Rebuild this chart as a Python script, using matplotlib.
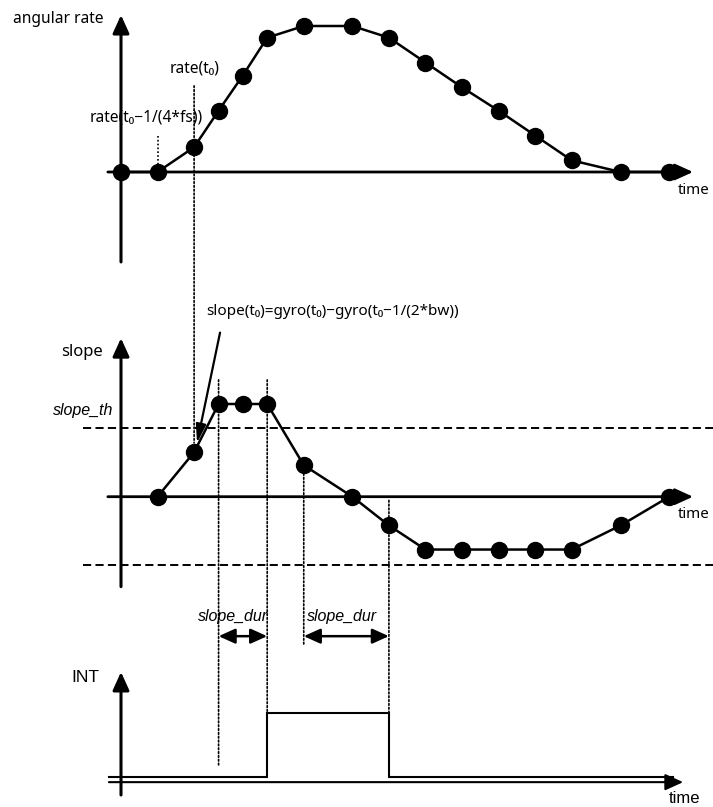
import numpy as np
import matplotlib.pyplot as plt
from matplotlib.patches import ConnectionPatch

# time in sample steps, shared by the three panels
rate_t = [0, 1, 2, 2.67, 3.33, 4, 5, 6.33, 7.33, 8.33, 9.33, 10.33, 11.33, 12.33, 13.67, 15]
rate_v = [0, 0, 0.17, 0.42, 0.66, 0.92, 1.0, 1.0, 0.92, 0.75, 0.58, 0.42, 0.25, 0.08, 0, 0]

slope_t = [1, 2, 2.67, 3.33, 4, 5, 6.33, 7.33, 8.33, 9.33, 10.33, 11.33, 12.33, 13.67, 15]
slope_v = [0, 0.48, 1.0, 1.0, 1.0, 0.34, 0, -0.31, -0.57, -0.57, -0.57, -0.57, -0.57, -0.31, 0]
slope_th = 0.74

int_t = [-0.33, 4, 4, 7.33, 7.33, 15.1]
int_v = [0, 0, 1, 1, 0, 0]

dur_left = (2.67, 4)
dur_right = (5, 7.33)

SANS = ['Noto Sans', 'DejaVu Sans']
ARIAL = ['Liberation Sans', 'DejaVu Sans']

W, H = 713, 807
PX_PER_T = 36.55
T_ZERO_PX = 121
xlim = (-T_ZERO_PX / PX_PER_T, (W - T_ZERO_PX) / PX_PER_T)

fig = plt.figure(figsize=(W / 100, H / 100), dpi=100)


# a panel is a horizontal band of the figure, value 0 at zero_px
def make_panel(top_px, bot_px, zero_px, px_per_unit):
    ax = fig.add_axes([0, 1 - bot_px / H, 1, (bot_px - top_px) / H])
    ax.set_xlim(xlim)
    ax.set_ylim(-(bot_px - zero_px) / px_per_unit, (zero_px - top_px) / px_per_unit)
    ax.axis('off')
    ax.patch.set_alpha(0)
    return ax


def axis_arrow(ax, start, end, lw=2.2):
    ax.annotate('', xy=end, xytext=start,
                arrowprops=dict(arrowstyle='-|>,head_length=1.1,head_width=0.5',
                                lw=lw, color='k', shrinkA=0, shrinkB=0,
                                mutation_scale=10), annotation_clip=False)


def dotted(axA, yA, axB, yB, t):
    con = ConnectionPatch(xyA=(t, yA), coordsA=axA.transData,
                          xyB=(t, yB), coordsB=axB.transData,
                          linestyle=(0, (1, 1.3)), lw=1.2, color='k')
    fig.add_artist(con)


ax1 = make_panel(0, 280, 172, 146)
ax2 = make_panel(280, 600, 496.7, 92.7)
ax3 = make_panel(600, 807, 777, 64.3)

# ---- angular rate panel
axis_arrow(ax1, (0, -0.616), (0, 1.075))
axis_arrow(ax1, (-0.36, 0), (15.65, 0), lw=2.0)
ax1.plot(rate_t, rate_v, color='k', lw=1.8, marker='o', ms=11.5, zorder=3)
ax1.text(-0.49, 1.048, 'angular rate', ha='right', va='center', fontsize=11.2, family=SANS)
ax1.text(2.02, 0.71, 'rate(t\u2080)', ha='center', va='center', fontsize=11.2, family=SANS)
ax1.text(0.70, 0.37, 'rate(t\u2080\u22121/(4*fs))', ha='center', va='center', fontsize=11.2, family=SANS)
ax1.text(15.22, -0.128, 'time', ha='left', va='center', fontsize=10.8, family=SANS)
ax1.plot([1, 1], [0.25, 0.03], color='k', lw=1.2, linestyle=(0, (1, 1.3)))

# ---- slope panel
axis_arrow(ax2, (0, -0.97), (0, 1.71))
axis_arrow(ax2, (-0.36, 0), (15.65, 0), lw=2.0)
for th in (slope_th, -slope_th):
    ax2.plot([-1.04, xlim[1]], [th, th], color='k', lw=1.4, linestyle=(0, (4.2, 2.2)))
ax2.plot(slope_t, slope_v, color='k', lw=1.8, marker='o', ms=11.5, zorder=3)
ax2.text(-0.49, 1.564, 'slope', ha='right', va='center', fontsize=12, family=SANS)
ax2.text(-0.22, 0.93, 'slope_th', ha='right', va='center', fontsize=11.5, style='italic', family=ARIAL)
ax2.text(2.34, 2.0, 'slope(t\u2080)=gyro(t\u2080)\u2212gyro(t\u2080\u22121/(2*bw))',
         ha='left', va='center', fontsize=11, family=SANS)
ax2.text(15.22, -0.197, 'time', ha='left', va='center', fontsize=10.8, family=SANS)
ax2.annotate('', xy=(2.08, 0.58), xytext=(2.71, 1.77),
             arrowprops=dict(arrowstyle='-|>,head_length=1.1,head_width=0.3',
                             lw=1.6, color='k', shrinkA=0, shrinkB=0, mutation_scale=10))

# ---- INT panel
axis_arrow(ax3, (0, -0.28), (0, 1.633))
axis_arrow(ax3, (-0.33, -0.08), (15.38, -0.08), lw=1.5)
ax3.plot(int_t, int_v, color='k', lw=1.5, solid_joinstyle='miter')
ax3.text(-0.6, 1.55, 'INT', ha='right', va='center', fontsize=12.5, family=ARIAL)
ax3.text(15.0, -0.34, 'time', ha='left', va='center', fontsize=12, family=ARIAL)
for (a, b), xc in ((dur_left, 3.06), (dur_right, 6.06)):
    ax3.annotate('', xy=(b, 2.19), xytext=(a, 2.19),
                 arrowprops=dict(arrowstyle='<|-|>,head_length=1.0,head_width=0.45',
                                 lw=1.8, color='k', shrinkA=0, shrinkB=0, mutation_scale=10))
    ax3.text(xc, 2.49, 'slope_dur', ha='center', va='center', fontsize=11.5,
             style='italic', family=ARIAL)

# ---- dotted guides running across panels
dotted(ax1, 0.59, ax2, 0.58, 2)
dotted(ax2, 1.26, ax3, 0.17, dur_left[0])
dotted(ax2, 1.26, ax3, 1.0, dur_left[1])
dotted(ax2, 0.29, ax3, 2.05, dur_right[0])
dotted(ax2, -0.04, ax3, 1.0, dur_right[1])

fig.savefig('out.png', dpi=100)
